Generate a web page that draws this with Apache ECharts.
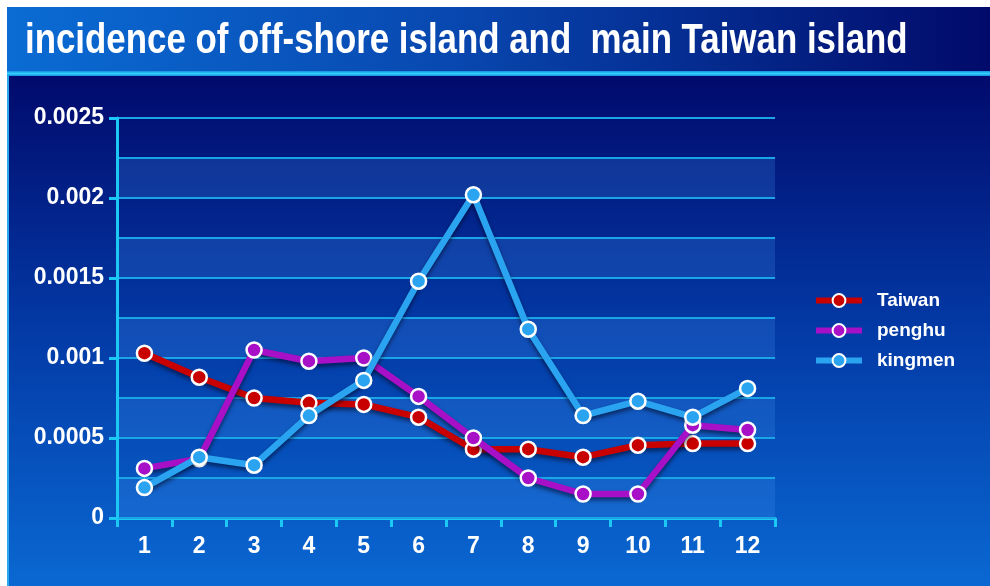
<!DOCTYPE html>
<html><head><meta charset="utf-8">
<script src="https://cdn.jsdelivr.net/npm/echarts@6/dist/echarts.min.js"></script>
<style>html,body{margin:0;padding:0;background:#fff}#c{width:990px;height:586px}</style>
</head><body><div id="c"></div>
<script>
const titleText = 'incidence of off-shore island and  main Taiwan island';
const categories = ['1','2','3','4','5','6','7','8','9','10','11','12'];
const taiwan  = [0.00103,0.00088,0.00075,0.00072,0.00071,0.00063,0.00043,0.00043,0.00038,0.000455,0.000465,0.000465];
const penghu  = [0.00031,0.00037,0.00105,0.00098,0.00100,0.00076,0.00050,0.00025,0.00015,0.00015,0.00058,0.00055];
const kingmen = [0.00019,0.00038,0.00033,0.00064,0.00086,0.00148,0.00202,0.00118,0.00064,0.00073,0.00063,0.00081];
const yLabels = [0, 0.0005, 0.001, 0.0015, 0.002, 0.0025];
const seriesNames = ['Taiwan','penghu','kingmen'];
const seriesColors = ['#c80000','#a810c8','#2aa4f0'];

const chart = echarts.init(document.getElementById('c'), null, {renderer:'canvas'});
const font = '"Liberation Sans", Arial, sans-serif';
function mk(name, data, color, z){
  return {name, type:'line', data, z, yAxisIndex:0,
    symbol:'circle', symbolSize:15,
    lineStyle:{width:6.5,color, shadowColor:'rgba(0,0,20,0.55)', shadowBlur:4, shadowOffsetY:3},
    itemStyle:{color, borderColor:'#ffffff', borderWidth:2.5},
    emphasis:{disabled:true}, animation:false};
}
chart.setOption({
  backgroundColor:'#ffffff',
  animation:false,
  graphic:[
    {type:'rect', z:-10, shape:{x:7,y:76,width:983,height:510},
     style:{fill:new echarts.graphic.LinearGradient(0,0,0,1,[{offset:0,color:'#010a6c'},{offset:0.5,color:'#033aa6'},{offset:1,color:'#0a68d2'}])}},
    {type:'rect', z:-10, shape:{x:7,y:7,width:983,height:64},
     style:{fill:new echarts.graphic.LinearGradient(0,0,1,0,[{offset:0,color:'#0a6cd4'},{offset:0.45,color:'#0848b0'},{offset:1,color:'#010a6a'}])}},
    {type:'rect', z:-9, shape:{x:7,y:71,width:983,height:5},
     style:{fill:new echarts.graphic.LinearGradient(0,0,0,1,[{offset:0,color:'#1a8ee0'},{offset:0.5,color:'#30d0ff'},{offset:1,color:'#1a8ee0'}])}},
    {type:'rect', z:-9, shape:{x:7,y:76,width:2,height:510}, style:{fill:'#2aa8f0'}},
    {type:'text', z:10, x:25, y:20, scaleX:0.83, scaleY:1,
     style:{text:titleText, fill:'#ffffff', font:'bold 42px ' + font, textAlign:'left'}}
  ],
  legend:{orient:'vertical', left:808, top:286, itemGap:11,
    itemWidth:46, itemHeight:16,
    lineStyle:{width:6},
    textStyle:{color:'#ffffff', fontFamily:font, fontWeight:'bold', fontSize:19, padding:[0,0,0,10]},
    data:seriesNames},
  grid:{left:117, right:215, top:118, bottom:68, containLabel:false},
  xAxis:{type:'category', data:categories, boundaryGap:true,
    axisLine:{lineStyle:{color:'#1cc8f4', width:3}},
    axisTick:{show:true, length:9, inside:false, lineStyle:{color:'#1cc8f4', width:3}},
    axisLabel:{color:'#ffffff', fontFamily:font, fontWeight:'bold', fontSize:23, margin:17},
    splitLine:{show:false}},
  yAxis:[
    {type:'value', min:0, max:0.0025, interval:0.0005, position:'left', z:5,
     axisLine:{show:true, lineStyle:{color:'#1cc8f4', width:3}},
     axisTick:{show:true, length:8, lineStyle:{color:'#1cc8f4', width:3}},
     axisLabel:{color:'#ffffff', fontFamily:font, fontWeight:'bold', fontSize:23, margin:13,
       formatter:function(v){ return String(+v.toFixed(5)); }},
     splitLine:{show:false}, splitArea:{show:false}},
    {type:'value', min:0, max:0.0025, interval:0.00025, position:'left', z:1,
     axisLine:{show:false}, axisTick:{show:false}, axisLabel:{show:false},
     splitLine:{show:true, lineStyle:{color:'#1aa6e6', width:2}},
     splitArea:{show:true, areaStyle:{color:['rgba(70,150,240,0.22)','rgba(0,0,0,0)']}}}
  ],
  series:[mk(seriesNames[0], taiwan, seriesColors[0], 2), mk(seriesNames[1], penghu, seriesColors[1], 3), mk(seriesNames[2], kingmen, seriesColors[2], 4)]
});
</script></body></html>
